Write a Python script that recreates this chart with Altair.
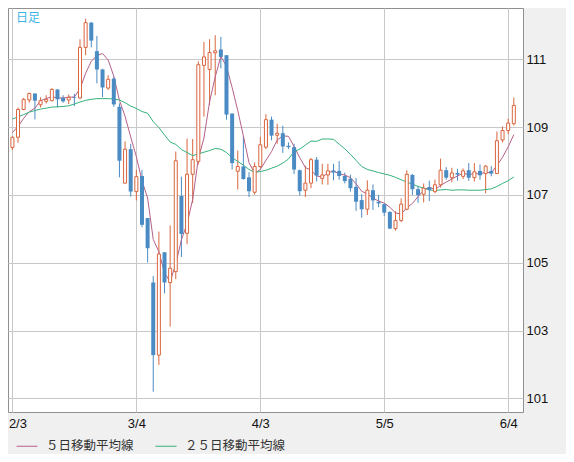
import json
import altair as alt
import numpy as np
import pandas as pd

# ---- data (USD/JPY daily) ----
dates = [d.strftime("%-m/%-d") for d in pd.bdate_range("2020-02-03", "2020-06-05")]

opens = [108.40,108.70,109.52,109.80,109.99,109.66,109.76,109.78,110.11,109.86,
         109.80,109.88,109.86,111.35,112.08,111.24,110.70,110.15,110.43,109.60,
         107.35,108.35,107.10,107.56,106.32,104.42,102.28,105.31,104.42,104.74,
         106.97,105.87,107.61,107.99,110.82,110.70,111.19,111.29,111.12,109.40,
         107.70,107.84,107.52,107.08,107.84,108.41,109.22,108.76,108.82,108.45,
         108.41,107.73,107.14,107.35,108.04,107.49,107.59,107.72,107.71,107.56,
         107.48,107.24,106.85,106.58,107.14,106.80,106.73,106.50,106.01,106.25,
         106.58,107.59,107.17,107.02,107.23,107.10,107.30,107.73,107.51,107.65,
         107.55,107.73,107.51,107.71,107.63,107.71,107.63,108.62,108.90,109.10]

highs = [108.73,109.58,109.86,110.02,110.00,109.88,109.94,110.15,110.12,109.94,
         109.96,109.98,111.59,112.20,112.10,111.69,110.72,110.53,110.49,109.70,
         108.58,108.51,107.74,107.74,106.32,104.61,105.92,105.31,106.10,108.28,
         107.54,108.66,108.65,110.94,111.51,111.59,111.71,111.66,111.12,109.40,
         108.31,108.73,107.67,107.96,108.71,109.38,109.31,109.10,109.04,108.55,
         108.51,107.75,107.86,108.09,108.12,107.92,107.92,107.92,108.00,107.66,
         107.60,107.50,107.02,107.43,107.31,107.00,106.75,106.52,106.52,106.90,
         107.73,107.62,107.27,107.34,107.42,107.45,108.07,107.82,107.80,107.77,
         107.78,107.94,107.94,107.90,107.88,107.85,108.87,109.02,109.25,109.87]

lows = [108.32,108.54,109.50,109.72,109.23,109.58,109.70,109.76,109.58,109.72,
        109.68,109.62,109.82,111.12,111.35,110.29,109.88,110.10,109.60,107.52,
        107.33,106.95,106.84,106.05,105.01,101.20,101.99,104.10,103.12,104.52,
        105.17,105.55,106.76,107.90,109.31,109.65,109.94,110.73,109.22,107.75,
        107.16,107.45,106.94,107.01,107.80,108.35,108.61,108.51,108.24,108.35,
        107.62,106.98,106.94,107.20,107.40,107.31,107.30,107.43,107.45,107.34,
        107.10,106.53,106.33,106.41,106.56,106.64,106.38,105.99,105.95,106.20,
        106.55,107.00,106.77,106.78,106.82,107.05,107.22,107.45,107.37,107.42,
        107.47,107.42,107.40,107.45,107.05,107.55,107.62,108.55,108.80,109.05]

closes = [108.70,109.52,109.82,109.99,109.78,109.78,109.82,110.11,109.82,109.76,
          109.88,109.86,111.35,112.08,111.55,110.70,110.17,110.41,109.67,108.01,
          108.35,107.10,107.54,106.12,105.43,102.28,105.26,104.42,104.84,108.01,
          105.85,107.61,108.04,110.84,111.07,111.20,111.25,111.07,109.37,107.94,
          107.84,107.47,107.11,107.84,108.48,109.22,108.75,108.82,108.43,108.41,
          107.75,107.11,107.35,108.04,107.57,107.59,107.71,107.66,107.56,107.41,
          107.20,106.80,106.58,107.14,106.84,106.75,106.48,106.01,106.25,106.73,
          107.61,107.17,107.00,107.20,107.15,107.30,107.73,107.51,107.65,107.60,
          107.71,107.51,107.68,107.58,107.85,107.63,108.60,108.90,109.12,109.64]

ma5 = [108.84,109.02,109.26,109.46,109.56,109.78,109.84,109.90,109.86,109.86,
       109.88,109.89,110.13,110.59,110.94,111.11,111.17,110.98,110.50,109.79,
       109.32,108.71,108.13,107.42,106.91,105.69,105.33,104.70,104.45,104.96,
       105.68,106.15,106.87,108.07,108.68,109.75,110.48,111.09,110.79,110.17,
       109.49,108.74,107.95,107.64,107.75,108.02,108.28,108.62,108.74,108.73,
       108.43,108.10,107.81,107.73,107.56,107.53,107.65,107.71,107.62,107.59,
       107.51,107.33,107.11,107.03,106.91,106.82,106.76,106.64,106.47,106.44,
       106.62,106.75,106.95,107.14,107.23,107.16,107.28,107.38,107.47,107.56,
       107.64,107.60,107.63,107.62,107.67,107.65,107.87,108.11,108.42,108.78]

ma25 = [109.24,109.30,109.37,109.44,109.49,109.53,109.56,109.59,109.60,109.61,
        109.63,109.68,109.74,109.79,109.82,109.84,109.84,109.84,109.83,109.80,
        109.72,109.62,109.55,109.46,109.41,109.16,108.99,108.77,108.56,108.49,
        108.34,108.25,108.16,108.21,108.26,108.31,108.37,108.35,108.25,108.10,
        107.99,107.88,107.75,107.67,107.69,107.73,107.79,107.85,107.94,108.06,
        108.28,108.35,108.47,108.59,108.58,108.65,108.65,108.64,108.50,108.36,
        108.20,108.02,107.84,107.75,107.71,107.66,107.62,107.58,107.52,107.45,
        107.38,107.32,107.25,107.20,107.15,107.13,107.15,107.16,107.14,107.15,
        107.15,107.14,107.14,107.14,107.16,107.18,107.25,107.34,107.42,107.53]

series_names = ["５日移動平均線", "２５日移動平均線"]
tick_idx = [0, 22, 44, 66, 88]
y_ticks = [101, 103, 105, 107, 109, 111]

# ---- tables ----
n = len(dates)
df = pd.DataFrame({"i": list(range(n)), "date": dates, "open": opens,
                   "high": highs, "low": lows, "close": closes})
df["dir"] = np.where(df["close"] >= df["open"], "up", "down")

ma = pd.DataFrame({
    "i": list(range(n)) * 2,
    "value": ma5 + ma25,
    "series": [series_names[0]] * n + [series_names[1]] * n,
})
tick_labels = [dates[k] for k in tick_idx]

RED = "#d9653d"
BLUE = "#4a8bc3"
GRID = "#c8c8c8"
NUMFONT = "Liberation Sans"
JPFONT = "Noto Sans CJK JP"

xscale = alt.Scale(domain=[-0.78, 90.63], nice=False, zero=False, padding=0)
yscale = alt.Scale(domain=[100.602, 112.512], nice=False, zero=False, padding=0)

label_expr = f"{json.dumps(tick_labels)}[indexof({json.dumps(tick_idx)}, datum.value)]"
first = tick_idx[0]
xaxis = alt.Axis(values=tick_idx, labelExpr=label_expr, grid=True, gridColor=GRID,
                 ticks=False, domain=False, labelFont=NUMFONT, labelFontSize=13,
                 labelColor="#111", labelPadding=5, labelAngle=0, labelFlush=False,
                 labelAlign=alt.ExprRef(expr=f"datum.value == {first} ? 'left' : 'center'"),
                 labelOffset=alt.ExprRef(expr=f"datum.value == {first} ? -4 : 0"),
                 title=None)
yaxis = alt.Axis(orient="right", values=y_ticks, grid=True, gridColor=GRID,
                 ticks=False, domain=False, labelFont=NUMFONT, labelFontSize=13,
                 labelColor="#111", labelPadding=3, title=None)

X = alt.X("i:Q", scale=xscale, axis=xaxis)

base = alt.Chart(df)

wick = base.mark_rule(strokeWidth=1).encode(
    x=X,
    y=alt.Y("low:Q", scale=yscale, axis=yaxis),
    y2="high:Q",
    stroke=alt.Stroke("dir:N", scale=alt.Scale(domain=["up", "down"], range=[RED, BLUE]),
                      legend=None),
)

body_up = base.transform_filter(alt.datum.dir == "up").mark_bar(
    size=3, fill="white", stroke=RED, strokeWidth=1
).encode(
    x=X,
    y=alt.Y("open:Q", scale=yscale, axis=yaxis),
    y2="close:Q",
)

body_down = base.transform_filter(alt.datum.dir == "down").mark_bar(
    size=4, fill=BLUE, strokeWidth=0
).encode(
    x=X,
    y=alt.Y("open:Q", scale=yscale, axis=yaxis),
    y2="close:Q",
)

lines = alt.Chart(ma).mark_line(strokeWidth=1).encode(
    x=X,
    y=alt.Y("value:Q", scale=yscale, axis=yaxis),
    color=alt.Color(
        "series:N",
        scale=alt.Scale(domain=series_names, range=["#b5608a", "#34b27b"]),
        legend=alt.Legend(orient="none", legendX=8, legendY=427, direction="horizontal",
                          title=None, symbolType="stroke", symbolSize=441,
                          symbolStrokeWidth=1, labelFont=JPFONT, labelFontSize=12.5,
                          labelColor="#333", labelOffset=8, columnPadding=19,
                          labelLimit=300),
    ),
)

tag = alt.Chart(pd.DataFrame({"label": ["日足"]})).mark_text(
    align="left", baseline="top", font=JPFONT, fontSize=12, color="#3db4e6"
).encode(text="label:N", x=alt.value(8), y=alt.value(5))

chart = alt.layer(wick, lines, body_up, body_down, tag).resolve_scale(
    color="independent", stroke="independent"
).properties(
    width=515, height=404,
    autosize=alt.AutoSizeParams(type="none"),
    padding={"left": 0, "top": 0, "right": 43, "bottom": 42},
    background="#f0f0f0",
).configure_view(fill="white", stroke="#909090", strokeWidth=1)

chart.save("out.html", embed_options={"renderer": "svg", "actions": False})
